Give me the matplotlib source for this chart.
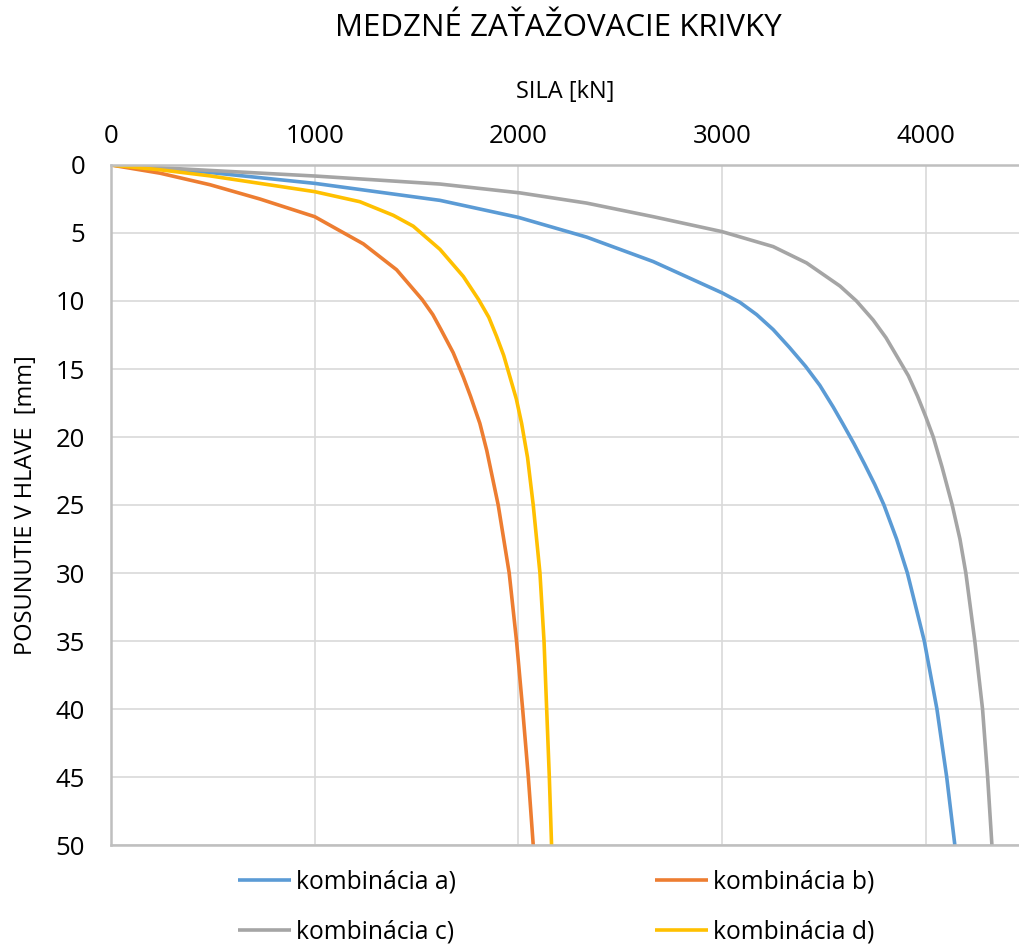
import matplotlib
matplotlib.use("Agg")
import matplotlib.pyplot as plt

plt.rcParams['font.family'] = ['Open Sans', 'DejaVu Sans']

# kombinácia a)
sila_a = [0, 240, 486, 1000, 1615, 2000, 2335, 2662, 3000, 3088, 3170, 3251, 3330, 3410, 3480, 3546, 3592, 3648, 3700,
          3750, 3795, 3857, 3910, 3993, 4055, 4103, 4143]
pos_a = [0, 0.25, 0.55, 1.35, 2.6, 3.85, 5.3, 7.1, 9.4, 10.1, 11.0, 12.1, 13.4, 14.8, 16.2, 17.8, 19.0, 20.5, 22.0,
         23.5, 25, 27.5, 30, 35, 40, 45, 50]
# kombinácia b)
sila_b = [0, 240, 486, 731, 1000, 1239, 1402, 1528, 1580, 1620, 1680, 1730, 1765, 1811, 1845, 1901, 1955, 1991, 2021, 2049, 2073]
pos_b = [0, 0.6, 1.45, 2.5, 3.8, 5.8, 7.7, 9.9, 11.0, 12.1, 13.8, 15.6, 17.0, 19.0, 21.0, 25, 30, 35, 40, 45, 50]
# kombinácia c)
sila_c = [0, 240, 486, 1000, 1615, 2008, 2335, 2662, 3000, 3251, 3415, 3579, 3660, 3742, 3805, 3860, 3915, 3960, 4000,
          4037, 4080, 4130, 4168, 4197, 4241, 4279, 4304, 4325]
pos_c = [0, 0.2, 0.4, 0.81, 1.4, 2.05, 2.8, 3.8, 4.9, 6.0, 7.2, 8.9, 10.0, 11.4, 12.7, 14.1, 15.5, 17.0, 18.5,
         20.0, 22.2, 25, 27.5, 30, 35, 40, 45, 50]
# kombinácia d)
sila_d = [0, 240, 486, 1000, 1222, 1386, 1484, 1615, 1730, 1805, 1855, 1893, 1928, 1959, 1990, 2016, 2045, 2073,
          2106, 2126, 2139, 2152, 2163]
pos_d = [0, 0.35, 0.8, 1.96, 2.7, 3.7, 4.5, 6.2, 8.2, 9.9, 11.2, 12.6, 14.0, 15.6, 17.2, 19.0, 21.5, 25,
         30, 35, 40, 45, 50]

labels = ['kombinácia a)', 'kombinácia b)', 'kombinácia c)', 'kombinácia d)']
colors = ['#5B9BD5', '#ED7D31', '#A5A5A5', '#FFC000']

W, H = 1019, 947
fig = plt.figure(figsize=(W / 100, H / 100), dpi=100)
ax = fig.add_axes([111 / W, 1 - 845 / H, (W - 111) / W, (845 - 165) / H])

series = [(sila_a, pos_a), (sila_b, pos_b), (sila_c, pos_c), (sila_d, pos_d)]
lines = []
for (x, y), lab, col in zip(series, labels, colors):
    ln, = ax.plot(x, y, color=col, lw=2.6, label=lab, solid_capstyle='butt', solid_joinstyle='round')
    lines.append(ln)

ax.set_xlim(0, 4458)
ax.set_ylim(50, 0)
ax.set_xticks([0, 1000, 2000, 3000, 4000])
ax.set_yticks(range(0, 51, 5))
ax.xaxis.tick_top()
ax.xaxis.set_label_position('top')
ax.tick_params(length=0, labelsize=18.5, colors='#000000')
ax.tick_params(axis='x', pad=11.5)
ax.tick_params(axis='y', pad=18.5)
ax.grid(True, color='#d9d9d9', lw=1.2)
ax.set_axisbelow(True)
for s in ['left', 'top', 'bottom']:
    ax.spines[s].set_color('#bfbfbf')
    ax.spines[s].set_linewidth(1.8)
ax.spines['right'].set_visible(False)

ax.set_xlabel('SILA [kN]', fontsize=17, labelpad=19)
ax.set_ylabel('POSUNUTIE V HLAVE  [mm]', fontsize=17, labelpad=12.5)

fig.text(558 / W, 1 - 28 / H, 'MEDZNÉ ZAŤAŽOVACIE KRIVKY', fontsize=22.5, ha='center', va='center')

# row-wise order: a, b / c, d
order = [0, 2, 1, 3]
fig.legend([lines[i] for i in order], [labels[i] for i in order],
           loc='center', bbox_to_anchor=(556 / W, 1 - 907 / H), ncol=2, frameon=False,
           fontsize=17.7, handlelength=2.15, handletextpad=0.2, columnspacing=8.1,
           labelspacing=1.0)

fig.savefig('out.png', dpi=100)
